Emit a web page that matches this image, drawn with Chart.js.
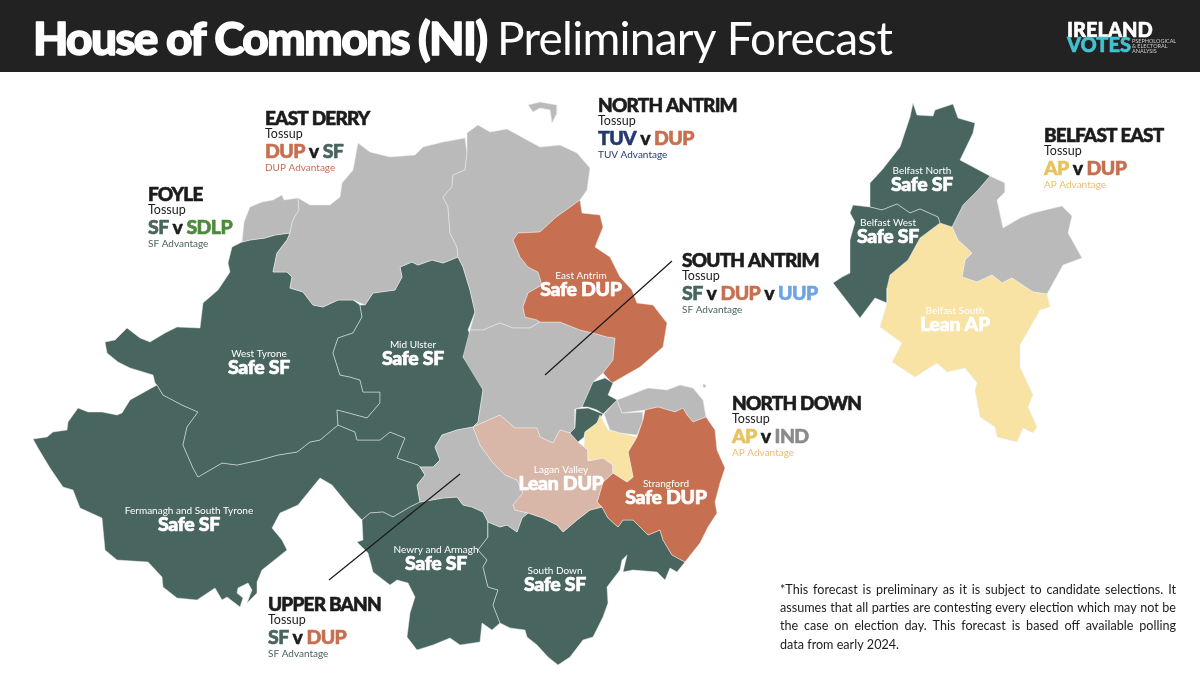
<!DOCTYPE html>
<html><head><meta charset="utf-8">
<style>html,body{margin:0;padding:0;background:#fff}canvas{display:block}</style>
<script src="https://cdn.jsdelivr.net/npm/chart.js@4/dist/chart.umd.js"></script>
</head><body><canvas id="c" width="1200" height="675"></canvas>
<script>
const foyle=[[242,242],[244,222],[250,207],[262,202],[273,200],[282,195],[284,200],[298,198],[299,210],[294,218],[292,223],[290,233],[275,235],[265,238],[250,240]];
const eastDerry=[[298,198],[310,205],[330,205],[340,197],[342,183],[353,170],[358,143],[370,152],[390,157],[415,155],[423,147],[443,142],[465,138],[467,153],[465,170],[453,175],[452,187],[443,197],[448,207],[450,233],[457,247],[458,257],[443,263],[432,260],[418,265],[412,262],[400,267],[402,277],[395,290],[373,293],[365,305],[353,300],[338,300],[323,307],[313,305],[303,292],[290,288],[292,277],[287,272],[273,272],[277,253],[287,240],[290,233],[292,223],[294,218],[299,210]];
const northAntrim=[[467,133],[478,125],[490,132],[507,129],[527,140],[540,147],[560,145],[577,153],[590,168],[587,190],[580,200],[555,218],[540,232],[518,233],[513,240],[520,257],[528,267],[538,272],[542,285],[528,293],[523,307],[525,317],[537,320],[540,322],[530,328],[513,328],[500,323],[483,330],[470,330],[475,312],[470,290],[463,267],[458,257],[457,247],[450,233],[448,207],[443,197],[452,187],[453,175],[465,170],[467,153]];
const eastAntrim=[[580,200],[582,213],[600,215],[603,227],[595,247],[610,257],[620,277],[632,290],[637,303],[653,305],[667,323],[663,347],[640,367],[612,383],[603,373],[613,360],[615,338],[607,337],[593,333],[580,330],[560,322],[540,322],[537,320],[525,317],[523,307],[528,293],[542,285],[538,272],[528,267],[520,257],[513,240],[518,233],[540,232],[555,218]];
const southAntrim=[[470,330],[483,330],[500,323],[513,328],[530,328],[540,322],[560,322],[580,330],[593,333],[607,337],[615,338],[613,360],[603,373],[593,382],[582,407],[575,409],[575,428],[570,433],[560,430],[553,443],[540,437],[537,428],[515,428],[500,415],[473,427],[478,422],[483,390],[463,357]];
const rathlin=[[528,105],[540,102],[557,105],[557,113],[552,123],[550,110],[540,108],[533,112]];
const copeland=[[703,384],[706,385],[705,388],[703,387]];
const lisburnNorth=[[593,382],[605,378],[613,383],[608,395],[617,400],[603,414],[597,410],[588,407],[582,407]];
const lisburnWest=[[576,409],[588,408],[603,414],[597,423],[585,432],[584,437],[578,442],[570,433],[575,428]];
const beltSouthMain=[[600,415],[608,430],[620,433],[637,437],[628,452],[633,477],[627,482],[613,473],[613,465],[603,458],[588,461],[588,450],[584,447],[585,432],[597,423]];
const beltEastMain=[[604,414],[617,400],[622,413],[643,412],[643,420],[637,435],[620,433],[610,430]];
const northDown=[[617,400],[630,395],[648,388],[667,390],[680,385],[693,388],[703,400],[706,417],[693,422],[687,415],[683,408],[675,412],[658,407],[645,410],[622,413]];
const strangford=[[645,410],[658,407],[675,412],[683,408],[687,415],[693,422],[706,417],[715,430],[717,450],[725,468],[720,483],[715,502],[717,513],[708,527],[700,543],[692,553],[685,562],[672,555],[663,540],[660,530],[648,535],[633,520],[623,520],[618,527],[608,518],[602,507],[597,502],[603,482],[613,473],[627,482],[633,477],[628,452],[637,437],[643,420]];
const laganValley=[[473,427],[500,415],[515,428],[537,428],[540,437],[553,443],[560,430],[570,433],[578,442],[584,447],[588,450],[588,461],[603,458],[613,465],[613,473],[603,482],[597,502],[602,507],[590,510],[577,520],[563,532],[557,525],[543,518],[528,513],[515,510],[513,505],[523,493],[517,480],[505,475],[493,463],[480,445]];
const upperBann=[[473,427],[480,445],[493,463],[505,475],[517,480],[523,493],[513,505],[515,510],[528,513],[522,518],[517,532],[507,525],[500,527],[488,522],[483,512],[472,507],[463,505],[457,497],[443,498],[420,502],[417,485],[425,475],[420,467],[433,467],[440,460],[435,447],[442,435],[457,430]];
const southDown=[[488,522],[500,527],[507,525],[517,532],[522,518],[528,513],[543,518],[557,525],[563,532],[577,520],[590,510],[602,507],[608,518],[618,527],[623,520],[633,520],[648,535],[660,530],[663,540],[672,555],[685,562],[677,572],[670,568],[665,580],[657,572],[633,570],[623,572],[627,555],[622,560],[620,570],[607,587],[608,603],[603,617],[593,637],[583,640],[570,657],[558,665],[548,657],[537,645],[527,637],[525,630],[510,628],[500,623],[493,605],[498,590],[488,587],[483,567],[487,560],[478,550],[488,537]];
const newryArmagh=[[420,502],[443,498],[457,497],[463,505],[472,507],[483,512],[488,522],[488,537],[478,550],[487,560],[483,567],[488,587],[498,590],[493,605],[500,623],[492,630],[482,623],[480,642],[460,645],[450,638],[433,645],[417,650],[407,637],[410,613],[415,597],[408,583],[397,580],[390,585],[373,572],[368,553],[357,542],[363,540],[362,520],[370,513],[383,512],[393,517],[410,507]];
const fermanagh=[[157,385],[130,400],[122,413],[117,415],[102,412],[88,412],[78,408],[68,422],[67,430],[53,432],[47,437],[33,439],[38,448],[50,468],[63,487],[73,490],[80,508],[102,518],[105,550],[117,560],[148,562],[162,577],[163,587],[177,598],[197,600],[215,588],[222,600],[227,597],[240,607],[243,598],[237,593],[238,588],[248,583],[252,590],[247,603],[257,593],[257,582],[262,570],[287,550],[282,540],[272,528],[280,513],[298,505],[320,478],[332,485],[350,507],[362,520],[370,513],[383,512],[393,517],[410,507],[420,502],[417,485],[425,475],[420,467],[418,465],[397,458],[405,438],[390,432],[380,440],[363,440],[357,440],[355,432],[338,425],[320,440],[310,442],[297,452],[278,455],[260,460],[237,465],[222,463],[198,477],[193,468],[183,445],[187,427],[198,412],[182,405],[163,395]];
const westTyrone=[[290,233],[275,235],[265,238],[250,240],[242,242],[232,247],[228,263],[230,272],[218,290],[203,303],[200,328],[177,327],[165,333],[150,342],[140,338],[127,328],[115,340],[105,342],[107,353],[118,362],[130,368],[153,375],[155,383],[157,385],[163,395],[182,405],[198,412],[187,427],[183,445],[193,468],[198,477],[222,463],[237,465],[260,460],[278,455],[297,452],[310,442],[320,440],[338,425],[337,410],[367,418],[380,403],[380,392],[363,392],[360,380],[350,377],[340,375],[333,353],[338,338],[353,333],[362,317],[360,305],[353,300],[338,300],[323,307],[313,305],[303,292],[290,288],[292,277],[287,272],[273,272],[277,253],[287,240]];
const midUlster=[[360,305],[365,305],[373,293],[395,290],[402,277],[400,267],[412,262],[418,265],[432,260],[443,263],[458,257],[463,267],[470,290],[475,312],[468,330],[472,338],[463,357],[483,380],[483,390],[478,422],[473,427],[457,430],[442,435],[435,447],[440,460],[433,467],[420,467],[418,465],[397,458],[405,438],[390,432],[380,440],[363,440],[357,440],[355,432],[338,425],[337,410],[367,418],[380,403],[380,392],[363,392],[360,380],[350,377],[340,375],[333,353],[338,338],[353,333],[362,317]];
const belfastNorth=[[913,103],[917,115],[933,116],[935,110],[953,104],[958,118],[975,123],[973,133],[960,160],[990,176],[978,190],[963,205],[952,227],[940,223],[938,217],[920,209],[910,213],[897,204],[882,210],[870,207],[870,183],[882,170],[900,147],[910,117]];
const belfastWest=[[853,205],[870,207],[882,210],[897,204],[910,213],[920,209],[938,217],[940,223],[920,238],[908,260],[890,275],[887,288],[887,303],[875,298],[860,318],[833,283],[842,277],[850,273],[850,240],[855,222],[850,213]];
const belfastSouth=[[952,227],[940,223],[920,238],[908,260],[890,275],[887,288],[887,303],[880,327],[902,343],[892,362],[915,377],[937,363],[947,372],[965,368],[977,383],[975,390],[980,417],[995,427],[997,437],[1017,442],[1023,428],[1033,433],[1037,427],[1028,407],[1033,395],[1020,367],[1020,345],[1040,310],[1050,307],[1047,294],[1033,292],[1012,278],[1002,283],[992,275],[977,282],[962,277],[965,260],[972,253],[958,240]];
const belfastEast=[[990,176],[1005,183],[1005,192],[997,200],[1003,228],[1020,218],[1033,213],[1062,206],[1072,216],[1068,233],[1082,258],[1063,265],[1047,294],[1033,292],[1012,278],[1002,283],[992,275],[977,282],[962,277],[965,260],[972,253],[958,240],[952,227],[963,205],[978,190]];
const bannLeader=[[329,580],[460,474]];
const antrimLeader=[[545,375],[672,261]];

const COL={SF:'#48655f',DUP:'#c76f51',TOSS:'#bababa',LEANDUP:'#d8b7a8',AP:'#f8e2a4',INK:'#1c1c1c',TUV:'#25396e',SDLP:'#4e8a3c',UUP:'#6ea4e2',APT:'#e8c25e',IND:'#8b8b8b',BAR:'#222222',TEAL:'#43c1d2'};
const regionShapes=[
 [fermanagh,COL.SF],[westTyrone,COL.SF],[midUlster,COL.SF],[newryArmagh,COL.SF],[southDown,COL.SF],
 [foyle,COL.TOSS],[eastDerry,COL.TOSS],[northAntrim,COL.TOSS],[rathlin,COL.TOSS],[copeland,COL.TOSS],[southAntrim,COL.TOSS],[upperBann,COL.TOSS],[beltEastMain,COL.TOSS],[northDown,COL.TOSS],
 [eastAntrim,COL.DUP],[strangford,COL.DUP],[laganValley,COL.LEANDUP],[lisburnNorth,COL.SF],[lisburnWest,COL.SF],[beltSouthMain,COL.AP],
 [belfastEast,COL.TOSS],[belfastSouth,COL.AP],[belfastNorth,COL.SF],[belfastWest,COL.SF]
];
const titleBold='House of Commons (NI)';
const titleLight='Preliminary Forecast';
const seatNames=['West Tyrone','Mid Ulster','East Antrim','Fermanagh and South Tyrone','Newry and Armagh','South Down','Lagan Valley','Strangford','Belfast North','Belfast West','Belfast South'];
const seatRatings=['Safe SF','Safe SF','Safe DUP','Safe SF','Safe SF','Safe SF','Lean DUP','Safe DUP','Safe SF','Safe SF','Lean AP'];
const seatX=[259,413,581,189,436,555,561,666,922,888,955];
const seatY=[357,348,279,514,553,574,473,487,174,226,314];
const tossNames=['EAST DERRY','FOYLE','NORTH ANTRIM','SOUTH ANTRIM','BELFAST EAST','NORTH DOWN','UPPER BANN'];
const tossRaces=[[['DUP','DUP'],['SF','SF']],[['SF','SF'],['SDLP','SDLP']],[['TUV','TUV'],['DUP','DUP']],[['SF','SF'],['DUP','DUP'],['UUP','UUP']],[['AP','APT'],['DUP','DUP']],[['AP','APT'],['IND','IND']],[['SF','SF'],['DUP','DUP']]];
const tossLeads=[['DUP Advantage','DUP'],['SF Advantage','SF'],['TUV Advantage','TUV'],['SF Advantage','SF'],['AP Advantage','APT'],['AP Advantage','APT'],['SF Advantage','SF']];
const tossX=[265,148,598,682,1044,732,268];
const tossY=[125,201,112,267,142,410,611];
const footnote=['*This forecast is preliminary as it is subject to candidate selections. It','assumes that all parties are contesting every election which may not be','the case on election day. This forecast is based off available polling','data from early 2024.'];

const F='Lato, sans-serif';
function T(ctx,s,x,y,font,color,align,heavy,ls){
 ctx.font=font;ctx.fillStyle=color;ctx.textAlign=align||'left';ctx.textBaseline='alphabetic';ctx.letterSpacing=(ls||0)+'px';
 ctx.fillText(s,x,y);
 if(heavy){ctx.lineJoin='round';ctx.strokeStyle=color;ctx.lineWidth=heavy;ctx.strokeText(s,x,y);}
}
const textPlugin={id:'texts',
 beforeDraw(ch){const c=ch.ctx;c.save();c.fillStyle=COL.BAR;c.fillRect(0,0,1200,72);c.restore();},
 afterDraw(ch){const c=ch.ctx;c.save();
  T(c,titleBold,33,55,'900 46px '+F,'#fff','left',1.4,-1.75);
  T(c,titleLight,497,55,'400 46px '+F,'#fff','left',0,-0.75);
  T(c,'IRELAND',1067,37,'900 20px '+F,'#fff','left',.6,0);
  T(c,'VOTES',1067,52,'900 20px '+F,COL.TEAL,'left',.6,0);
  ['PSEPHOLOGICAL','& ELECTORAL','ANALYSIS'].forEach((s,i)=>T(c,s,1132,42.5+i*5.3,'400 5.5px '+F,'#cfcfcf'));
  seatNames.forEach((n,i)=>{
   T(c,n,seatX[i],seatY[i],'400 10px '+F,'#fff','center');
   T(c,seatRatings[i],seatX[i],seatY[i]+17,'900 19.5px '+F,'#fff','center',.7,-.3);
  });
  tossNames.forEach((n,i)=>{const x=tossX[i],y=tossY[i];
   T(c,n,x,y,'900 19px '+F,COL.INK,'left',.6,-.8);
   T(c,'Tossup',x,y+13,'400 12.5px '+F,COL.INK);
   let px=x;const ry=y+33;
   tossRaces[i].forEach((r,k)=>{
    if(k){T(c,' v ',px,ry,'900 19.5px '+F,COL.INK,'left',.5,-.6);px+=c.measureText(' v ').width;}
    T(c,r[0],px,ry,'900 19.5px '+F,COL[r[1]],'left',.6,-.6);px+=c.measureText(r[0]).width;
   });
   T(c,tossLeads[i][0],x,y+46,'400 10px '+F,COL[tossLeads[i][1]]);
  });
  const fy=[594,612,630,649];
  c.letterSpacing='0px';c.font='400 12.6px '+F;c.fillStyle=COL.INK;c.textAlign='left';
  footnote.forEach((s,i)=>{
   const gaps=s.split(' ').length-1;c.wordSpacing='0px';
   if(i<3){const w=c.measureText(s).width;c.wordSpacing=((396-w)/gaps)+'px';}
   c.fillText(s,780,fy[i]);
  });
  c.wordSpacing='0px';c.restore();
 }};
const toPts=a=>a.concat([a[0]]).map(p=>({x:p[0],y:p[1]}));
const datasets=regionShapes.map((r,i)=>({data:toPts(r[0]),showLine:true,fill:'shape',backgroundColor:r[1],borderColor:'rgba(235,240,238,.6)',borderWidth:.8,pointRadius:0,tension:0,order:100-i}));
[bannLeader,antrimLeader].forEach(l=>datasets.push({data:l.map(p=>({x:p[0],y:p[1]})),showLine:true,fill:false,borderColor:'#1a1a1a',borderWidth:1.2,pointRadius:0,order:0}));
new Chart(document.getElementById('c'),{type:'scatter',data:{datasets},plugins:[textPlugin],options:{responsive:false,animation:false,events:[],layout:{padding:0},
 plugins:{legend:{display:false},tooltip:{enabled:false},title:{display:false}},
 scales:{x:{type:'linear',min:0,max:1200,display:false},y:{type:'linear',min:0,max:675,reverse:true,display:false}}}});
</script></body></html>
